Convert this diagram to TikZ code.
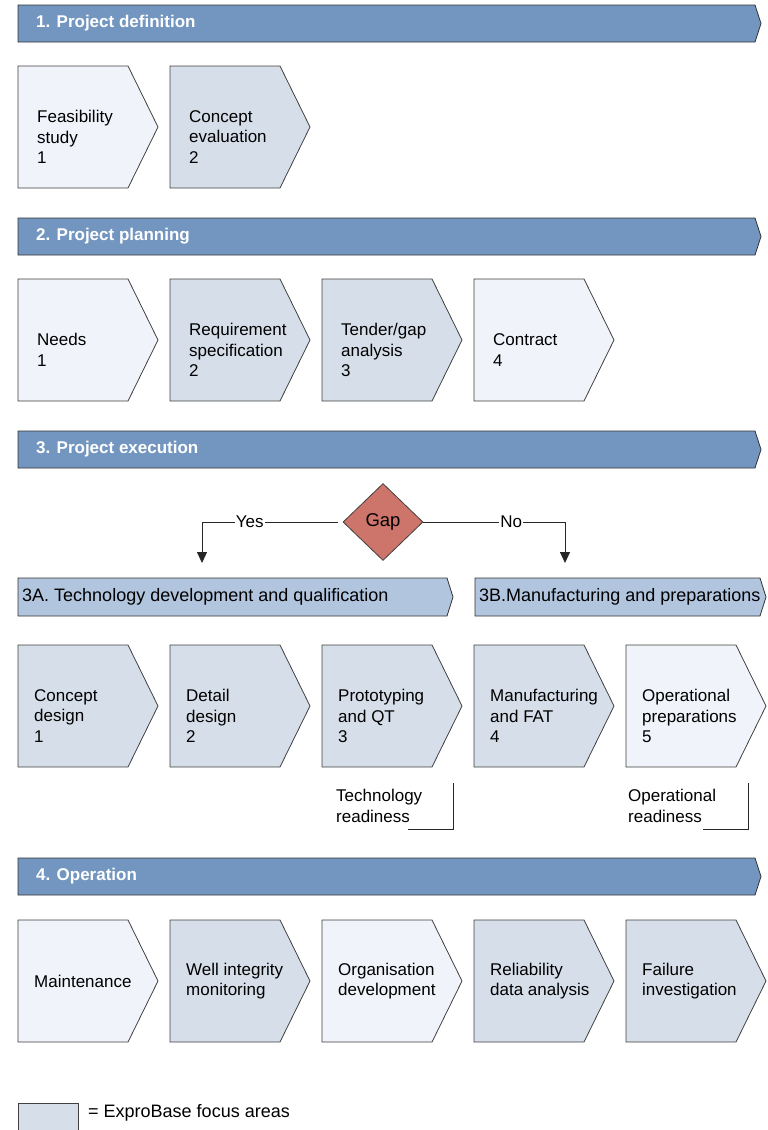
\documentclass[tikz,border=0pt]{standalone}
\usepackage{fontspec}
\setmainfont{Liberation Sans}
\usetikzlibrary{shapes.geometric,arrows.meta}

\definecolor{phaseblue}{RGB}{115,150,192}
\definecolor{subblue}{RGB}{178,197,222}
\definecolor{focusfill}{RGB}{214,223,233}
\definecolor{lightfill}{RGB}{240,243,249}
\definecolor{gapred}{RGB}{205,116,107}

\tikzset{
	phase/.style={fill=phaseblue, draw=black!80, line width=0.8pt},
	subphase/.style={fill=subblue, draw=black!80, line width=0.8pt},
	lightbox/.style={fill=lightfill, draw=black!75, line width=0.8pt},
	focusbox/.style={fill=focusfill, draw=black!75, line width=0.8pt},
	txt/.style={anchor=west, align=left, inner sep=0pt, font=\fontsize{17}{20.5}\selectfont},
	bigtxt/.style={txt, font=\fontsize{18}{21}\selectfont},
	phasetxt/.style={txt, text=white, font=\fontsize{17}{20.5}\selectfont\bfseries},
	lbl/.style={fill=white, inner sep=1pt, font=\fontsize{17}{20.5}\selectfont},
	flow/.style={draw=black!85, line width=0.8pt, -{Triangle[length=11pt,width=10pt]}},
	bracket/.style={draw=black!85, line width=0.8pt}
}

\begin{document}
\begin{tikzpicture}[x=1pt,y=-1pt]
		\useasboundingbox (0,0) rectangle (768,1130);
		
		% phase bars
		\filldraw[phase] (18,5)--(755,5)--(761,23.5)--(755,42)--(18,42)--cycle;
		\node[phasetxt] (phase1) at (36,23.5) {1. Project definition};
		\filldraw[phase] (18,218)--(755,218)--(761,236.5)--(755,255)--(18,255)--cycle;
		\node[phasetxt] (phase2) at (36,236.5) {2. Project planning};
		\filldraw[phase] (18,431)--(755,431)--(761,449.5)--(755,468)--(18,468)--cycle;
		\node[phasetxt] (phase3) at (36,449.5) {3. Project execution};
		\filldraw[phase] (18,858)--(755,858)--(761,876.5)--(755,895)--(18,895)--cycle;
		\node[phasetxt] (phase4) at (36,876.5) {4. Operation};
		
		% 1. project definition
		\foreach \x/\s/\t [count=\i] in {18/lightbox/{Feasibility\\study\\1}, 170/focusbox/{Concept\\evaluation\\2}}{
			\filldraw[\s] (\x,66)--++(110,0)--++(30,61)--++(-30,61)--++(-110,0)--cycle;
			\node[txt] (def\i) at (\x+19,137) {\t};
		}
		
		% 2. project planning
		\foreach \x/\s/\t [count=\i] in {18/lightbox/{Needs\\1}, 170/focusbox/{Requirement\\specification\\2}, 322/focusbox/{Tender/gap\\analysis\\3}, 474/lightbox/{Contract\\4}}{
			\filldraw[\s] (\x,279)--++(110,0)--++(30,61)--++(-30,61)--++(-110,0)--cycle;
			\node[txt] (plan\i) at (\x+19,350) {\t};
		}
		
		% 3. project execution
		\node[diamond, fill=gapred, draw=black!75, line width=0.8pt, minimum width=80pt, minimum height=77pt, inner sep=0pt, font=\fontsize{18.5}{21}\selectfont] (gap) at (383,522) {Gap};
		\coordinate (yes) at (202,563);
		\coordinate (no) at (565,563);
		\draw[flow, shorten <=5pt] (gap.west) -| (yes) node[lbl, pos=0.33] {Yes};
		\draw[flow] (gap.east) -| (no) node[lbl, pos=0.31] {No};
		
		\filldraw[subphase] (18,578)--(447,578)--(453,597)--(447,616)--(18,616)--cycle;
		\node[bigtxt] (phase3a) at (22,597) {3A. Technology development and qualification};
		\filldraw[subphase] (475,578)--(760,578)--(766,597)--(760,616)--(475,616)--cycle;
		\node[bigtxt] (phase3b) at (479,597) {3B.Manufacturing and preparations};
		
		%\shade[left color=subblue, right color=focusfill] (18.4,645.4) rectangle (30,766.6);
		\foreach \x/\s/\t [count=\i] in {18/focusbox/{Concept\\design\\1}, 170/focusbox/{Detail\\design\\2}, 322/focusbox/{Prototyping\\and QT\\3}, 474/focusbox/{Manufacturing\\and FAT\\4}, 626/lightbox/{Operational\\preparations\\5}}{
			\filldraw[\s] (\x,645)--++(110,0)--++(30,61)--++(-30,61)--++(-110,0)--cycle;
			\node[txt] (exec\i) at (\x+16,716) {\t};
		}
		
		\node[txt] (techready) at (336,806) {Technology\\readiness};
		\draw[bracket] (453,783)--(453,829)--(408,829);
		\node[txt] (opready) at (628,806) {Operational\\readiness};
		\draw[bracket] (748,783)--(748,829)--(703,829);
		
		% 4. operation
		\foreach \x/\s/\t [count=\i] in {18/lightbox/{Maintenance}, 170/focusbox/{Well integrity\\monitoring}, 322/lightbox/{Organisation\\development}, 474/focusbox/{Reliability\\data analysis}, 626/focusbox/{Failure\\investigation}}{
			\filldraw[\s] (\x,920)--++(110,0)--++(30,61)--++(-30,61)--++(-110,0)--cycle;
			\node[txt] (op\i) at (\x+16,981) {\t};
		}
		
		% legend
		\filldraw[focusbox] (18,1103) rectangle (78,1136);
		\node[bigtxt] (legend) at (88,1113) {= ExproBase focus areas};
	\end{tikzpicture}
\end{document}
